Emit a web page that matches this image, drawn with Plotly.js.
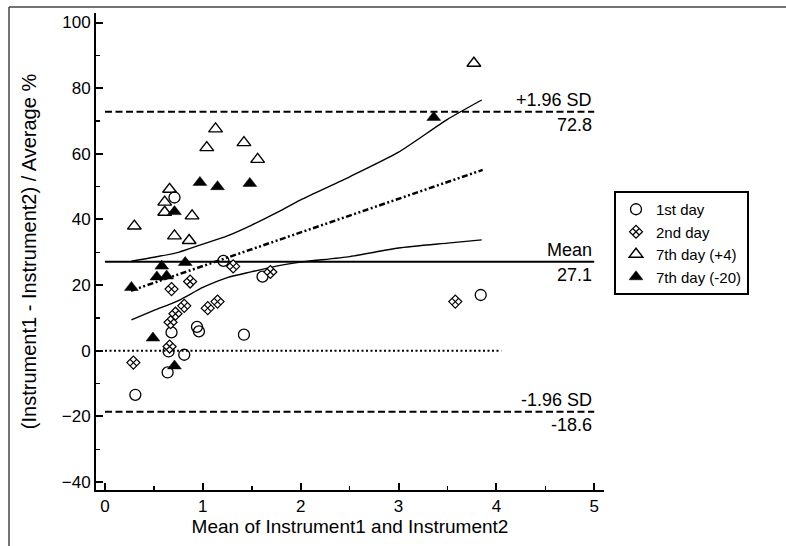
<!DOCTYPE html>
<html>
<head>
<meta charset="utf-8">
<script src="https://cdn.plot.ly/plotly-3.0.1.min.js"></script>
<style>html,body{margin:0;padding:0;background:#fff;}#chart{width:786px;height:546px;}</style>
</head>
<body>
<div id="chart"></div>
<script>
// ---- data ----
var day1X = [0.71, 1.21, 1.61, 0.94, 0.96, 0.68, 0.65, 0.81, 0.64, 0.31, 1.42, 3.84];
var day1Y = [46.7, 27.4, 22.6, 7.3, 5.9, 5.6, -0.2, -1.2, -6.6, -13.4, 4.9, 17.0];

var day2X = [0.68, 0.87, 0.81, 0.72, 0.67, 1.05, 1.15, 0.66, 0.29, 1.31, 1.69, 3.58];
var day2Y = [18.8, 21.1, 13.7, 11.3, 8.7, 13.0, 15.0, 1.3, -3.6, 25.7, 24.0, 15.0];

var day7pX = [0.30, 0.66, 0.61, 0.61, 0.71, 0.86, 0.89, 1.04, 1.13, 1.42, 1.56, 3.77];
var day7pY = [38.0, 49.2, 45.3, 42.2, 35.0, 33.6, 41.1, 61.9, 67.6, 63.4, 58.3, 87.6];

var day7mX = [0.27, 0.53, 0.58, 0.63, 0.82, 0.71, 0.97, 1.15, 1.48, 0.49, 0.71, 3.36];
var day7mY = [19.3, 22.5, 25.8, 22.8, 26.9, 42.4, 51.3, 50.0, 51.0, 3.9, -4.6, 71.1];

var limitX = [0, 5];
var meanValue = 27.1;
var upperSD = 72.8;
var lowerSD = -18.6;
var zeroX = [0, 4.05];

var regX = [0.265, 3.86];
var regY = [18.3, 55.1];

var ciX     = [0.27, 0.5, 0.75, 1.0, 1.25, 1.5, 1.75, 2.0, 2.5, 3.0, 3.5, 3.85];
var ciUpper = [27.3, 28.5, 30.0, 32.5, 35.0, 38.3, 42.0, 46.0, 53.0, 60.5, 70.5, 76.4];
var ciLower = [9.4, 12.3, 15.3, 19.3, 22.3, 24.1, 25.8, 27.0, 28.7, 31.3, 32.8, 33.8];

var legendNames = ['1st day', '2nd day', '7th day (+4)', '7th day (-20)'];
var xTickStep = 1, xMinorStep = 0.5;
var yTickStep = 20, yMinorStep = 10;

// ---- build ----
var FONT = 'Liberation Sans, Arial, sans-serif';
function hline(xs, v) { return xs.map(function () { return v; }); }

var traces = [
  {x: limitX, y: hline(limitX, upperSD), mode: 'lines', showlegend: false, hoverinfo: 'skip',
   line: {color: '#000', width: 2, dash: '7px,3.5px'}},
  {x: limitX, y: hline(limitX, lowerSD), mode: 'lines', showlegend: false, hoverinfo: 'skip',
   line: {color: '#000', width: 2, dash: '7px,3.5px'}},
  {x: limitX, y: hline(limitX, meanValue), mode: 'lines', showlegend: false, hoverinfo: 'skip',
   line: {color: '#000', width: 2}},
  {x: zeroX, y: hline(zeroX, 0), mode: 'lines', showlegend: false, hoverinfo: 'skip',
   line: {color: '#000', width: 2, dash: '2px,2.5px'}},
  {x: ciX, y: ciUpper, mode: 'lines', showlegend: false, hoverinfo: 'skip',
   line: {color: '#000', width: 1.4, shape: 'spline', smoothing: 0.6}},
  {x: ciX, y: ciLower, mode: 'lines', showlegend: false, hoverinfo: 'skip',
   line: {color: '#000', width: 1.4, shape: 'spline', smoothing: 0.6}},
  {x: regX, y: regY, mode: 'lines', showlegend: false, hoverinfo: 'skip',
   line: {color: '#000', width: 2.5, dash: '6px,2.5px,2px,2.5px,2px,2.5px'}},
  {x: day1X, y: day1Y, mode: 'markers', name: legendNames[0],
   marker: {symbol: 'circle-open', size: 11, color: '#000', line: {width: 1.3, color: '#000'}}},
  {x: day2X, y: day2Y, mode: 'markers', name: legendNames[1],
   marker: {symbol: 'diamond-x', size: 10, color: '#fff', line: {width: 1.2, color: '#000'}}},
  {x: day7pX, y: day7pY, mode: 'markers', name: legendNames[2],
   marker: {symbol: 'triangle-up-open', size: 12, color: '#000', line: {width: 1.4, color: '#000'}}},
  {x: day7mX, y: day7mY, mode: 'markers', name: legendNames[3],
   marker: {symbol: 'triangle-up', size: 12, color: '#000', line: {width: 0.5, color: '#000'}}}
];

var annFont = {family: FONT, size: 18, color: '#000'};
function ann(text, y, above) {
  return {x: 5, y: y, xref: 'x', yref: 'y', text: text, showarrow: false,
          xanchor: 'right', yanchor: above ? 'bottom' : 'top',
          yshift: above ? 0 : -1, font: annFont};
}

var W = 508, H = 477, L = 96, T = 13;
function px2x(p) { return (p - L) / W; }
function py2y(p) { return (T + H - p) / H; }

var layout = {
  width: 786, height: 546,
  margin: {l: L, r: 786 - L - W, t: T, b: 546 - T - H, pad: 0},
  paper_bgcolor: '#fff', plot_bgcolor: '#fff',
  font: {family: FONT, size: 17, color: '#000'},
  showlegend: true,
  legend: {x: px2x(614), y: py2y(191), xanchor: 'left', yanchor: 'top',
           bordercolor: '#000', borderwidth: 2, bgcolor: '#fff',
           font: {family: FONT, size: 15, color: '#000'}},
  xaxis: {
    range: [-0.092, 5.1], tickmode: 'linear', tick0: 0, dtick: xTickStep, layer: 'above traces',
    showgrid: false, zeroline: false, showline: true, linecolor: '#000', linewidth: 2,
    ticks: 'inside', ticklen: 7, tickwidth: 2, tickcolor: '#000',
    minor: {dtick: xMinorStep, tick0: 0, ticks: 'inside', ticklen: 4, tickwidth: 1.5, tickcolor: '#000', showgrid: false},
    tickfont: {family: FONT, size: 17, color: '#000'},
    title: {text: 'Mean of Instrument1 and Instrument2', font: {family: FONT, size: 19, color: '#000'}, standoff: 2}
  },
  yaxis: {
    range: [-42.4, 102.9], tickmode: 'linear', tick0: 0, dtick: yTickStep, layer: 'above traces',
    showgrid: false, zeroline: false, showline: true, linecolor: '#000', linewidth: 2,
    ticks: 'inside', ticklen: 7, tickwidth: 2, tickcolor: '#000',
    minor: {dtick: yMinorStep, tick0: 0, ticks: 'inside', ticklen: 4, tickwidth: 1.5, tickcolor: '#000', showgrid: false},
    tickfont: {family: FONT, size: 17, color: '#000'},
    title: {text: '(Instrument1 - Instrument2) / Average %', font: {family: FONT, size: 20, color: '#000'}, standoff: 20}
  },
  annotations: [
    ann('+1.96 SD', upperSD, true), ann(upperSD.toFixed(1), upperSD, false),
    ann('Mean', meanValue, true), ann(meanValue.toFixed(1), meanValue, false),
    ann('-1.96 SD', lowerSD, true), ann(lowerSD.toFixed(1), lowerSD, false)
  ],
  shapes: [
    {type: 'line', xref: 'paper', yref: 'paper', x0: px2x(9), x1: px2x(790), y0: py2y(7), y1: py2y(7),
     line: {color: '#444', width: 1.5}},
    {type: 'line', xref: 'paper', yref: 'paper', x0: px2x(9), x1: px2x(9), y0: py2y(7), y1: py2y(550),
     line: {color: '#444', width: 1.5}}
  ]
};

Plotly.newPlot('chart', traces, layout, {staticPlot: true, displayModeBar: false});
</script>
</body>
</html>
